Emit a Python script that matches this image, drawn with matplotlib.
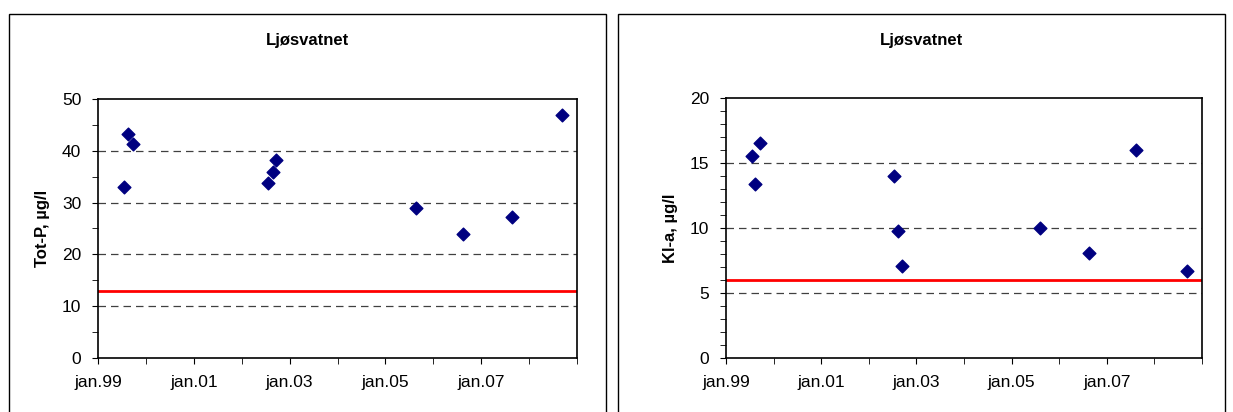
import matplotlib.pyplot as plt
from matplotlib.patches import Rectangle
from matplotlib.ticker import MultipleLocator, FixedLocator

# Tot-P
totp_x = [1999.54, 1999.62, 1999.73, 2002.54, 2002.65, 2002.72, 2005.63, 2006.63, 2007.64, 2008.69]
totp_y = [33.0, 43.2, 41.3, 33.8, 36.0, 38.2, 29.0, 24.0, 27.2, 47.0]
totp_grense = 13

# Klorofyll a
kla_x = [1999.55, 1999.61, 1999.72, 2002.52, 2002.62, 2002.69, 2005.60, 2006.63, 2007.62, 2008.68]
kla_y = [15.5, 13.4, 16.5, 14.0, 9.8, 7.1, 10.0, 8.1, 16.0, 6.7]
kla_grense = 6

xticks = [1999, 2001, 2003, 2005, 2007]
xticklabels = ["jan.99", "jan.01", "jan.03", "jan.05", "jan.07"]

W, H = 1233, 412
fig = plt.figure(figsize=(W / 100, H / 100), dpi=100)
plt.rcParams['font.family'] = ['Liberation Sans', 'DejaVu Sans']


def panel(box, ax_px, x, y, grense, ymax, major, minor, ylabel, ylab_x):
    bx0, bx1 = box
    fig.patches.append(Rectangle((bx0 / W, -0.1), (bx1 - bx0) / W, 1.1 - 14 / H,
                                 transform=fig.transFigure, fill=False, ec='black', lw=1))
    x0, x1, y0, y1 = ax_px
    ax = fig.add_axes([x0 / W, 1 - y1 / H, (x1 - x0) / W, (y1 - y0) / H])
    for v in range(major, ymax, major):
        ax.axhline(v, color='#404040', ls=(0, (6, 4)), lw=0.9, zorder=1)
    ax.axhline(grense, color='red', lw=2, zorder=2)
    ax.scatter(x, y, marker='D', s=42, color='#000080', zorder=3)
    ax.set_xlim(1999, 2009)
    ax.set_ylim(0, ymax)
    ax.set_xticks(xticks)
    ax.set_xticklabels(xticklabels)
    ax.xaxis.set_minor_locator(FixedLocator(range(1999, 2010)))
    ax.yaxis.set_major_locator(MultipleLocator(major))
    ax.yaxis.set_minor_locator(MultipleLocator(minor))
    ax.tick_params(labelsize=12.5, length=4, direction='out', pad=8)
    ax.tick_params(which='minor', length=4)
    for s in ax.spines.values():
        s.set_linewidth(1.2)
    fig.text((bx0 + bx1) / 2 / W, 1 - 40 / H, "Ljøsvatnet", fontsize=12,
             fontweight='bold', ha='center', va='center')
    fig.text(ylab_x / W, 1 - (y0 + y1) / 2 / H, ylabel, rotation=90, fontsize=12,
             fontweight='bold', ha='center', va='center')


panel((9, 606), (98, 577, 99, 358), totp_x, totp_y, totp_grense, 50, 10, 5,
      "Tot-P, µg/l", 43)
panel((618, 1225), (726, 1202, 98, 358), kla_x, kla_y, kla_grense, 20, 5, 1,
      "Kl-a, µg/l", 671)

fig.savefig("out.png", dpi=100)
